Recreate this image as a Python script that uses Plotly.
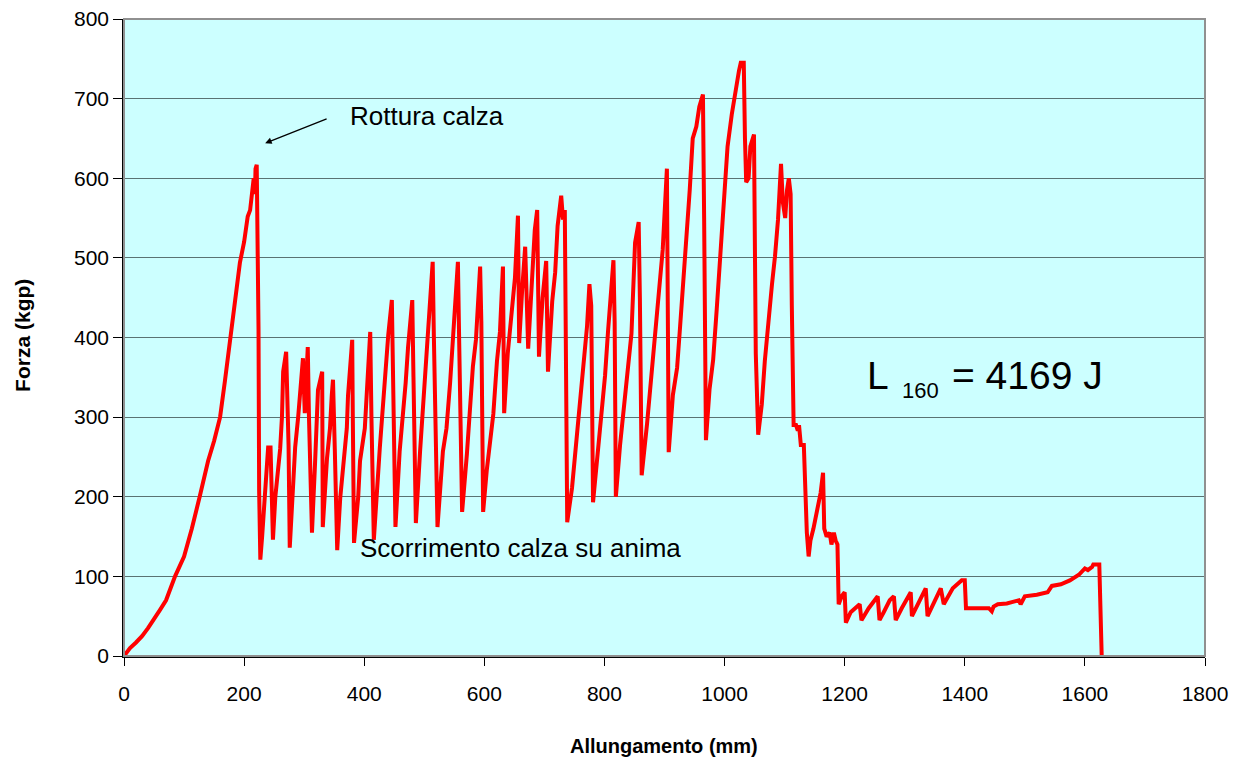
import plotly.graph_objects as go

# Allungamento (mm)
allungamento = [
    0, 5, 10, 20, 30, 40, 48, 60, 70, 85, 100, 113, 126, 140, 150, 160, 168, 176, 185, 193, 200, 206, 210, 213, 216, 218, 219, 221,
    222, 223, 224, 225, 227, 230, 233, 236, 240, 244, 246, 248, 252, 255, 260, 263, 265, 270, 272, 274, 276, 280, 285, 290, 296, 298,
    301, 306, 308, 313, 318, 323, 330, 331, 338, 343, 346, 348, 351, 355, 360, 365, 371, 373, 380, 381, 383, 390, 393, 401, 404, 406,
    410, 412, 416, 426, 431, 437, 440, 446, 448, 452, 459, 464, 469, 473, 480, 482, 486, 493, 498, 504, 509, 514, 516, 522, 531, 537,
    543, 548, 556, 558, 563, 571, 576, 581, 586, 593, 595, 598, 604, 609, 615, 621, 626, 631, 633, 639, 646, 651, 656, 658, 663, 668,
    673, 679, 684, 688, 691, 697, 703, 706, 713, 718, 722, 728, 731, 734, 736, 738, 746, 751, 756, 762, 771, 775, 778, 781, 789, 795,
    801, 806, 815, 817, 819, 826, 831, 837, 845, 851, 857, 859, 862, 871, 876, 881, 887, 892, 897, 904, 905, 907, 914, 921, 926, 931,
    937, 942, 947, 953, 958, 964, 966, 969, 975, 981, 987, 992, 1001, 1005, 1012, 1019, 1024, 1027, 1032, 1034, 1036, 1040, 1043, 1049,
    1052, 1056, 1062, 1067, 1072, 1079, 1084, 1089, 1094, 1097, 1101, 1104, 1107, 1110, 1112, 1115, 1119, 1122, 1124, 1127, 1132, 1134,
    1137, 1140, 1143, 1148, 1152, 1156, 1160, 1164, 1166, 1170, 1175, 1178, 1182, 1185, 1188, 1190,
    1195, 1200, 1202, 1210, 1218, 1225, 1228, 1240, 1255, 1258, 1265, 1275, 1282, 1285, 1295, 1310, 1312, 1322, 1335, 1338, 1350,
    1360, 1365, 1380, 1395, 1400, 1402, 1440, 1445, 1448, 1455, 1470, 1480, 1490, 1493, 1500, 1520, 1538, 1545, 1560, 1575, 1590,
    1600, 1605, 1612, 1614, 1624, 1625, 1628,
]

# Forza (kgp)
forza = [
    0, 5, 10, 17, 25, 35, 45, 58, 70, 100, 125, 160, 200, 245, 270, 300, 345, 393, 440, 494, 520, 552, 560, 585, 600, 580, 612, 617,
    560, 460, 410, 208, 121, 150, 190, 217, 262, 262, 200, 146, 200, 221, 260, 300, 357, 382, 340, 265, 136, 200, 262, 300, 360, 374,
    305, 388, 300, 155, 240, 334, 357, 162, 248, 286, 328, 347, 260, 133, 198, 245, 286, 327, 397, 300, 142, 200, 245, 286, 333, 367,
    407, 300, 146, 262, 313, 360, 403, 447, 350, 162, 257, 295, 343, 388, 447, 350, 167, 257, 313, 377, 421, 495, 400, 162, 257, 286,
    343, 400, 495, 400, 181, 254, 310, 364, 397, 489, 420, 181, 233, 269, 304, 370, 407, 489, 305, 380, 437, 475, 553, 393, 460, 514,
    386, 476, 535, 560, 376, 450, 496, 357, 445, 482, 540, 578, 548, 560, 300, 168, 211, 254, 295, 349, 414, 467, 440, 193, 255, 300,
    352, 408, 497, 420, 200, 265, 305, 352, 405, 519, 545, 450, 227, 292, 335, 378, 435, 468, 510, 612, 500, 256, 328, 362, 414, 466,
    529, 585, 650, 665, 690, 705, 550, 271, 335, 372, 436, 492, 585, 640, 680, 715, 735, 745, 745, 650, 595, 600, 640, 655,
    380, 278, 316, 370, 416, 467, 502, 548, 618, 570, 550, 585, 600, 580, 440, 290, 290, 283, 290, 265, 265, 200,
    155, 125, 145, 160, 175, 190, 205, 230, 160, 150, 155, 140, 155, 145, 140, 65,
    75, 80, 42, 55, 60, 65, 45, 60, 75, 45, 55, 70, 75, 45, 60, 80, 50, 65, 85, 50, 70,
    85, 65, 85, 95, 95, 60, 60, 56, 62, 65, 66, 68, 70, 65, 75, 77, 80, 88, 90, 95, 102,
    110, 108, 112, 115, 115, 75, 0,
]

x_ticks = [0, 200, 400, 600, 800, 1000, 1200, 1400, 1600, 1800]
y_ticks = [0, 100, 200, 300, 400, 500, 600, 700, 800]

FONT = "Liberation Sans, Arial, sans-serif"

fig = go.Figure()
fig.add_trace(go.Scatter(
    x=allungamento, y=forza, mode="lines",
    line=dict(color="#FF0000", width=4),
    hoverinfo="skip", showlegend=False,
))

fig.update_layout(
    width=1224, height=749,
    margin=dict(l=116, r=27, t=11, b=101, autoexpand=False),
    paper_bgcolor="white",
    plot_bgcolor="#CCFFFF",
    font=dict(family=FONT, color="black", size=21),
    xaxis=dict(
        range=[0, 1800], tickvals=x_ticks, ticktext=[str(v) for v in x_ticks],
        ticks="outside", ticklen=8, tickwidth=1.3, tickcolor="#000000",
        showline=True, linecolor="#000000", linewidth=1.5,
        showgrid=False, zeroline=False, automargin=False,
        tickfont=dict(family=FONT, size=21),
        ticklabelstandoff=10, ticklabeloverflow="allow",
    ),
    yaxis=dict(
        range=[0, 800], tickvals=y_ticks, ticktext=[str(v) for v in y_ticks],
        ticks="outside", ticklen=9, tickwidth=1.3, tickcolor="#000000",
        showline=True, linecolor="#000000", linewidth=1.5,
        showgrid=True, gridcolor="#5a7373", gridwidth=1.4, zeroline=False, automargin=False,
        tickfont=dict(family=FONT, size=21),
        ticklabeloverflow="allow",
    ),
    shapes=[dict(type="rect", xref="paper", yref="paper", x0=0, y0=0, x1=1, y1=1,
                 line=dict(color="#909090", width=2), layer="above")],
)

annotations = [
    dict(text="<b>Allungamento (mm)</b>", xref="paper", yref="paper", x=0.4995, y=-0.141,
         showarrow=False, font=dict(family=FONT, size=20), xanchor="center", yanchor="middle"),
    dict(text="<b>Forza (kgp)</b>", xref="paper", yref="paper", x=-0.0935, y=0.504,
         showarrow=False, textangle=-90, font=dict(family=FONT, size=21), xanchor="center", yanchor="middle"),
    dict(text="Rottura calza", xref="x", yref="y", x=373, y=678, showarrow=False,
         font=dict(family=FONT, size=26), xanchor="left", yanchor="middle"),
    dict(text="", xref="x", yref="y", x=235, y=644, ax=63, ay=-25, showarrow=True,
         arrowhead=2, arrowsize=1, arrowwidth=1.3, arrowcolor="black"),
    dict(text="Scorrimento calza su anima", xref="x", yref="y", x=390, y=136, showarrow=False,
         font=dict(family=FONT, size=26), xanchor="left", yanchor="middle"),
    dict(text="L", xref="x", yref="y", x=1234, y=352, showarrow=False,
         font=dict(family=FONT, size=39), xanchor="left", yanchor="middle"),
    dict(text="160", xref="x", yref="y", x=1292, y=333, showarrow=False,
         font=dict(family=FONT, size=22), xanchor="left", yanchor="middle"),
    dict(text="= 4169 J", xref="x", yref="y", x=1375, y=352, showarrow=False,
         font=dict(family=FONT, size=39), xanchor="left", yanchor="middle"),
]
fig.update_layout(annotations=annotations)

fig.write_html("out.html")
